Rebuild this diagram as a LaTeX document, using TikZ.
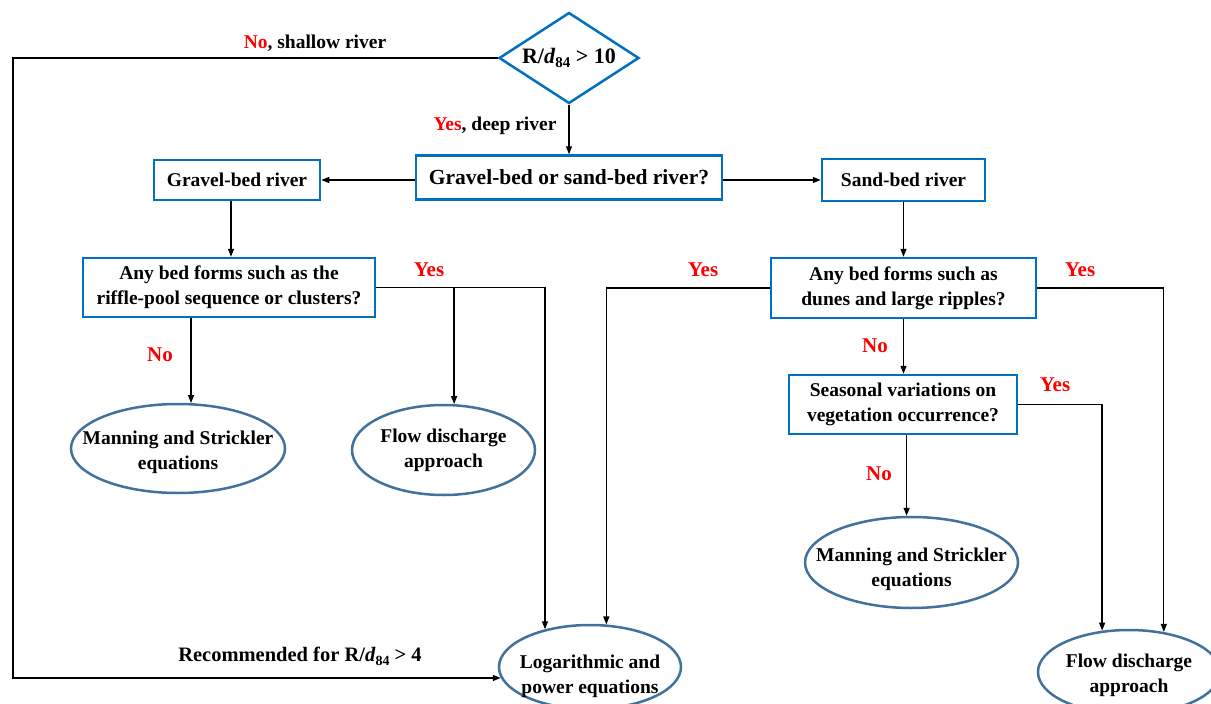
\documentclass[tikz,border=0pt]{standalone}
\usepackage{fontspec}
\setmainfont{Liberation Serif}
\usetikzlibrary{shapes.geometric,arrows.meta}
\definecolor{boxblue}{RGB}{0,112,192}
\definecolor{ellblue}{RGB}{65,113,156}
\definecolor{lblred}{RGB}{255,0,0}
\newcommand{\dratio}[1]{R/\textit{d}\raisebox{-0.4ex}{\fontsize{#1}{#1}\selectfont 84}}
\begin{document}
\begin{tikzpicture}[x=1pt,y=-1pt,
  every node/.style={font=\bfseries\fontsize{19.5}{25}\selectfont, align=center, inner sep=0pt},
  qbox/.style={draw=boxblue, line width=2.5pt, rectangle, fill=white},
  ell/.style={draw=ellblue, line width=2.5pt, ellipse, fill=white},
  conn/.style={line width=1.3pt, draw=black},
  arr/.style={conn, -{Triangle[length=8pt,width=6pt]}},
  lbl/.style={text=lblred, font=\bfseries\fontsize{21}{25}\selectfont}
]
\clip (0,0) rectangle (1211,704);
\fill[white] (0,0) rectangle (1211,704);

% nodes
\node[qbox, diamond, shape aspect=1.54, minimum width=140pt, minimum height=91pt,
      font=\bfseries\fontsize{22}{26}\selectfont] (dia) at (569,58) {\dratio{15} > 10};
\node[qbox, minimum width=306pt, minimum height=44pt,
      font=\bfseries\fontsize{21.5}{26}\selectfont] (main) at (569,177.5) {Gravel-bed or sand-bed river?};
\node[qbox, minimum width=166pt, minimum height=40pt] (grav) at (237,180) {Gravel-bed river};
\node[qbox, minimum width=163pt, minimum height=42pt] (sand) at (903.5,180) {Sand-bed river};
\node[qbox, minimum width=292pt, minimum height=59pt] (q1) at (229,287.5) {Any bed forms such as the\\riffle-pool sequence or clusters?};
\node[qbox, minimum width=265pt, minimum height=60pt] (q2) at (903.5,288) {Any bed forms such as\\dunes and large ripples?};
\node[qbox, minimum width=228pt, minimum height=59pt] (q3) at (903,404.5) {Seasonal variations on\\vegetation occurrence?};

\node[ell, minimum width=214pt, minimum height=89pt] (man1) at (178,448.5) {};
\node (man1t) at (178,452) {Manning and Strickler\\equations};
\node[ell, minimum width=183pt, minimum height=90pt] (flow1) at (443.5,450) {};
\node (flow1t) at (443.5,450) {Flow discharge\\approach};
\node[ell, minimum width=182pt, minimum height=84pt] (log) at (590,667) {};
\node (logt) at (590,676) {Logarithmic and\\power equations};
\node[ell, minimum width=213pt, minimum height=91pt] (man2) at (911.5,562.5) {};
\node (man2t) at (911.5,569) {Manning and Strickler\\equations};
\node[ell, minimum width=182pt, minimum height=84pt] (flow2) at (1129,672) {};
\node (flow2t) at (1129,675) {Flow discharge\\approach};

% labels
\node (l0) at (315,43) {\textcolor{lblred}{No}, shallow river};
\node (l1) at (495,126) {\textcolor{lblred}{Yes}, deep river};
\node[lbl] (y1) at (429,270) {Yes};
\node[lbl] (n1) at (160,355) {No};
\node[lbl] (y2) at (703,270) {Yes};
\node[lbl] (y3) at (1080,270) {Yes};
\node[lbl] (n2) at (875,346) {No};
\node[lbl] (y4) at (1055,385) {Yes};
\node[lbl] (n3) at (879,474) {No};
\node[font=\bfseries\fontsize{20.5}{25}\selectfont] (rec) at (300,656) {Recommended for \dratio{14} > 4};

% connectors
\coordinate (lc) at (13,58);
\draw[arr] (dia.west) -- (dia.west -| lc) |- (log.187);
\draw[arr] (dia.south) -- (dia.south |- main.north);
\draw[arr] (grav.east -| main.west) -- (grav.east);
\draw[arr] (sand.west -| main.east) -- (sand.west);
\draw[arr] ([xshift=-6pt]grav.south) -- ([xshift=-6pt]grav.south |- q1.north);
\draw[arr] (sand.south) -- (sand.south |- q2.north);
\draw[arr] (man1.74 |- q1.south) -- (man1.74);
\draw[arr] (q1.east) -| (log.140);
\draw[arr] (q1.east -| flow1.77) -- (flow1.77);
\draw[arr] (q2.west) -| (log.69);
\draw[arr] (q2.east) -| (flow2.49);
\draw[arr] (q2.south) -- (q2.south |- q3.north);
\draw[arr] (q3.east) -| (flow2.123);
\draw[arr] (man2.96 |- q3.south) -- (man2.96);
\end{tikzpicture}
\end{document}
